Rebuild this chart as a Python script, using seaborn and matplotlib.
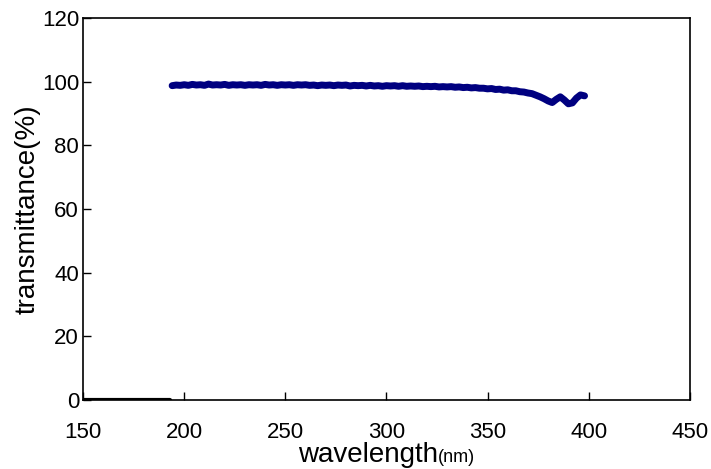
import numpy as np
import pandas as pd
import seaborn as sns
import matplotlib.pyplot as plt

# transmittance spectrum (every 2 nm)
wavelength = np.arange(194, 400, 2)
transmittance = [
    98.7, 98.9, 98.8, 99.0, 98.8, 99.1, 98.9, 99.0, 98.8, 99.2,
    98.9, 99.0, 98.9, 99.1, 98.8, 99.0, 98.9, 99.0, 98.8, 99.0,
    98.9, 99.0, 98.8, 99.1, 98.9, 99.0, 98.8, 99.0, 98.9, 99.0,
    98.8, 99.0, 98.9, 99.0, 98.8, 98.9, 98.7, 98.9, 98.8, 98.9,
    98.7, 98.9, 98.8, 98.9, 98.6, 98.8, 98.7, 98.8, 98.6, 98.8,
    98.6, 98.7, 98.5, 98.7, 98.6, 98.7, 98.5, 98.7, 98.5, 98.6,
    98.5, 98.6, 98.4, 98.5, 98.4, 98.5, 98.3, 98.4, 98.3, 98.4,
    98.2, 98.3, 98.1, 98.2, 98.0, 98.1, 97.9, 97.9, 97.7, 97.8,
    97.5, 97.6, 97.3, 97.4, 97.1, 97.1, 96.8, 96.7, 96.4, 96.2,
    95.7, 95.2, 94.6, 93.9, 93.4, 94.4, 95.2, 94.2, 93.0, 93.3,
    94.8, 95.8, 95.5,
]
# zero baseline below the measured range
base_wl = [150, 193]
base_t = [0, 0]

xticks = [150, 200, 250, 300, 350, 400, 450]
yticks = [0, 20, 40, 60, 80, 100, 120]

sns.set_style('white')
plt.rcParams['font.family'] = ['Liberation Sans', 'DejaVu Sans']
plt.rcParams['text.color'] = 'black'
plt.rcParams['axes.labelcolor'] = 'black'

df = pd.DataFrame({'wavelength': wavelength, 'transmittance': transmittance})

fig = plt.figure(figsize=(7.11, 4.69), dpi=100)
ax = fig.add_axes([0.117, 0.147, 0.853, 0.815])

sns.lineplot(x=base_wl, y=base_t, color='black', lw=3, ax=ax)
sns.lineplot(data=df, x='wavelength', y='transmittance', color='#000080',
             lw=5, solid_joinstyle='round', solid_capstyle='round', ax=ax)

ax.set_xlim(150, 450)
ax.set_ylim(0, 120)
ax.set_xticks(xticks)
ax.set_yticks(yticks)
ax.set_xlabel('')
ax.set_ylabel('transmittance(%)', fontsize=20)
ax.yaxis.set_label_coords(-0.07, 0.5)
ax.tick_params(direction='in', length=6, width=1, colors='black',
               bottom=True, left=True, top=False, right=False,
               labelsize=16)
ax.tick_params(axis='x', pad=16)
ax.tick_params(axis='y', pad=3)
for s in ax.spines.values():
    s.set_color('black')
    s.set_linewidth(1.2)

fig.text(438 / 711, 1 - 462 / 469, 'wavelength', ha='right', va='baseline',
         fontsize=20)
fig.text(438 / 711, 1 - 462 / 469, '(nm)', ha='left', va='baseline',
         fontsize=13)

fig.savefig('out.png', dpi=100)
